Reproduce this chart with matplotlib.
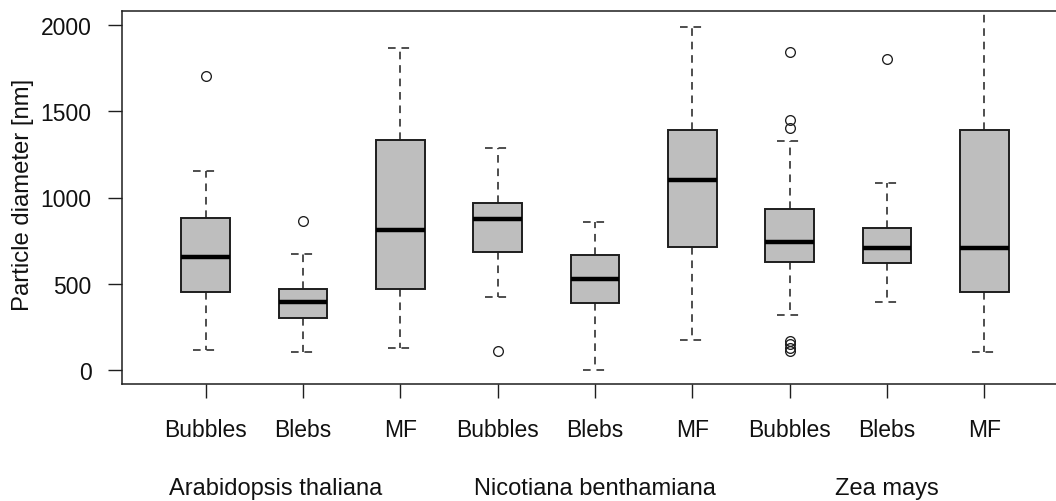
import matplotlib
matplotlib.use("Agg")
import matplotlib.pyplot as plt
import matplotlib.transforms as mtransforms

# ---- data ----
groups = ["Arabidopsis thaliana", "Nicotiana benthamiana", "Zea mays"]
group_label_pos = [1.72, 5.0, 8.0]
categories = ["Bubbles", "Blebs", "MF", "Bubbles", "Blebs", "MF", "Bubbles", "Blebs", "MF"]

whislo = [116, 104, 131, 421, 0, 174, 317, 392, 106]
q1     = [454, 305, 473, 682, 390, 715, 628, 618, 454]
med    = [657, 392, 813, 875, 526, 1103, 744, 709, 709]
q3     = [883, 473, 1331, 970, 665, 1391, 935, 821, 1391]
whishi = [1154, 670, 1864, 1289, 858, 1990, 1329, 1084, 2200]
fliers = [[1704], [866], [], [112], [], [], [1840, 1450, 1405, 170, 150, 130, 112], [1801], []]

ylabel = "Particle diameter [nm]"
yticks = [0, 500, 1000, 1500, 2000]

# ---- figure ----
W, H = 1056, 502
fig = plt.figure(figsize=(W / 100, H / 100), dpi=100)
plt.rcParams["font.family"] = ["Liberation Sans", "DejaVu Sans"]
txtcol = "#111111"

left_px, right_px, top_px, bottom_px = 122, 1070, 12, 385
ax = fig.add_axes([left_px / W, 1 - bottom_px / H,
                   (right_px - left_px) / W, (bottom_px - top_px) / H])

positions = list(range(1, len(categories) + 1))
stats = []
for i in range(len(categories)):
    stats.append(dict(med=med[i], q1=q1[i], q3=q3[i],
                      whislo=whislo[i], whishi=whishi[i], fliers=fliers[i]))

dash = (0, (5.0, 3.8))
ax.bxp(stats, positions=positions, widths=0.5, capwidths=0.25,
       patch_artist=True, showfliers=True,
       boxprops=dict(facecolor="#bebebe", edgecolor="#1e1e1e", linewidth=1.4),
       medianprops=dict(color="black", linewidth=3.2, solid_capstyle="butt"),
       whiskerprops=dict(color="#1e1e1e", linewidth=1.1, linestyle=dash),
       capprops=dict(color="#1e1e1e", linewidth=1.1, linestyle=dash),
       flierprops=dict(marker="o", markerfacecolor="none", markeredgecolor="#1e1e1e",
                       markersize=7.0, markeredgewidth=0.95, linestyle="none"))

step = 97.35
x0 = 1 + (left_px - 205.5) / step
x1 = 1 + (right_px - 205.5) / step
ax.set_xlim(x0, x1)
ax.set_ylim(-80, 2080)

ax.set_xticks(positions)
ax.set_xticklabels(categories)
ax.set_yticks(yticks)
ax.set_yticklabels([str(t) for t in yticks])

for s in ax.spines.values():
    s.set_linewidth(1.1)
    s.set_color("#1e1e1e")

ax.tick_params(axis="both", direction="out", length=10, width=1.0, color="#1e1e1e",
               labelsize=16.5, labelcolor=txtcol)
ax.tick_params(axis="y", pad=12.0)
ax.tick_params(axis="x", pad=14.5)

ax.set_ylabel(ylabel, fontsize=17.2, color=txtcol, va="center", ha="center")
ax.yaxis.set_label_coords((23 - left_px) / (right_px - left_px), 0.51)

trans = mtransforms.blended_transform_factory(ax.transData, fig.transFigure)
for g, p in zip(groups, group_label_pos):
    ax.text(p, 1 - 495 / H, g, transform=trans, ha="center", va="baseline",
            fontsize=17.0, color=txtcol, clip_on=False)

fig.savefig("out.png", dpi=100)
